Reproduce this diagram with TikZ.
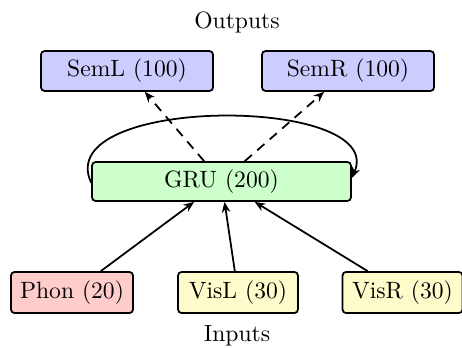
\documentclass[tikz,border=0pt]{standalone}
\usetikzlibrary{arrows.meta}
\begin{document}
\begin{tikzpicture}[x=0.4237pt,y=-0.4237pt,
  box/.style={draw,line width=0.75pt,rounded corners=1.5pt,inner sep=0pt,minimum height=16.9pt},
  sembox/.style={box,fill=blue!20,minimum width=72.9pt},
  grubox/.style={box,fill=green!20,minimum width=109.7pt,minimum height=16.5pt},
  phonbox/.style={box,fill=red!20,minimum width=51.7pt,minimum height=17.4pt},
  visbox/.style={box,fill=yellow!20,minimum width=50.8pt,minimum height=17.4pt},
  conn/.style={line width=0.75pt,-{Stealth[length=4.5pt,width=3.6pt]}},
  lbl/.style={inner sep=0pt}]
\useasboundingbox (0,0) rectangle (462,348);
\node[lbl] (outputs) at (237,22) {Outputs};
\node[sembox] (seml) at (127,71) {SemL (100)};
\node[sembox] (semr) at (348,71) {SemR (100)};
\node[grubox] (gru) at (221.5,181.5) {GRU (200)};
\node[phonbox] (phon) at (72,292.5) {Phon (20)};
\node[visbox] (visl) at (238,292.5) {VisL (30)};
\node[visbox] (visr) at (402.5,292.5) {VisR (30)};
\node[lbl] (inputs) at (237,336) {Inputs};
\draw[conn] (phon) -- (gru);
\draw[conn] (visl) -- (gru);
\draw[conn] (visr) -- (gru);
\draw[conn,dashed,dash pattern=on 4pt off 3pt] (gru) -- (seml);
\draw[conn,dashed,dash pattern=on 4pt off 3pt] (gru) -- (semr);
\draw[conn] ([yshift=-0.5pt]gru.west) .. controls (50,95) and (388,95) .. ([yshift=1.5pt]gru.east);
\end{tikzpicture}
\end{document}
